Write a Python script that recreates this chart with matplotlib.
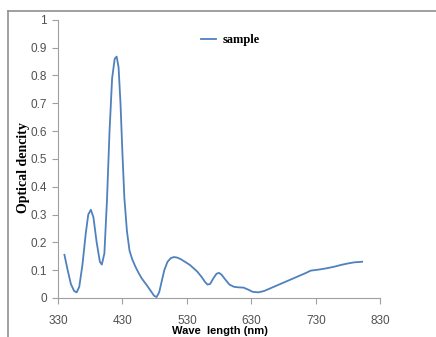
import matplotlib
matplotlib.use('Agg')
import matplotlib.pyplot as plt
from matplotlib.lines import Line2D

# values
wavelength = [340, 345, 350, 355, 359, 363, 368, 373, 377, 381, 385, 390, 395, 398,
              402, 406, 410, 414, 418, 421, 424, 427, 430, 433, 437, 441, 445, 450,
              455, 460, 468, 474, 479, 483, 487, 491, 495, 500, 505, 510, 515, 520,
              527, 535, 546, 553, 558, 562, 566, 571, 576, 580, 584, 590, 596, 603,
              610, 618, 625, 632, 641, 650, 660, 675, 690, 705, 715, 722, 735, 748,
              760, 770, 780, 790, 802]
density = [0.155, 0.10, 0.05, 0.025, 0.02, 0.04, 0.12, 0.23, 0.30, 0.317, 0.29, 0.20,
           0.13, 0.12, 0.16, 0.35, 0.60, 0.79, 0.86, 0.868, 0.83, 0.70, 0.52, 0.36,
           0.24, 0.17, 0.14, 0.113, 0.09, 0.07, 0.045, 0.025, 0.008, 0.003, 0.02,
           0.06, 0.10, 0.13, 0.143, 0.147, 0.145, 0.14, 0.13, 0.118, 0.095, 0.075,
           0.058, 0.048, 0.05, 0.07, 0.087, 0.09, 0.083, 0.065, 0.048, 0.04, 0.038,
           0.037, 0.03, 0.022, 0.02, 0.025, 0.035, 0.05, 0.065, 0.08, 0.09, 0.098,
           0.102, 0.107, 0.113, 0.119, 0.124, 0.128, 0.13]
xticks = [330, 430, 530, 630, 730, 830]
yticks = [0, 0.1, 0.2, 0.3, 0.4, 0.5, 0.6, 0.7, 0.8, 0.9, 1]
ytick_labels = ['0', '0.1', '0.2', '0.3', '0.4', '0.5', '0.6', '0.7', '0.8', '0.9', '1']

sans = ['Liberation Sans', 'DejaVu Sans']
serif = ['Liberation Serif', 'DejaVu Serif']

fig = plt.figure(figsize=(4.36, 3.37), dpi=100)
ax = fig.add_axes([0.133, 0.116, 0.739, 0.825])

ax.plot(wavelength, density, color='#4F81BD', lw=1.3, label='sample')

ax.set_xlim(330, 830)
ax.set_ylim(0, 1)
ax.set_xticks(xticks)
ax.set_yticks(yticks)
ax.set_yticklabels(ytick_labels)
for lab in ax.get_xticklabels() + ax.get_yticklabels():
    lab.set_family(sans)
    lab.set_fontsize(8.5)
    lab.set_color('#505050')
ax.tick_params(axis='both', direction='out', length=4, color='#a0a0a0', width=0.8)
ax.tick_params(axis='x', pad=8)
ax.tick_params(axis='y', pad=4)

for s in ['top', 'right']:
    ax.spines[s].set_visible(False)
for s in ['left', 'bottom']:
    ax.spines[s].set_color('#a0a0a0')
    ax.spines[s].set_linewidth(0.8)

fig.text(24 / 436, 1 - 168 / 337, 'Optical dencity', rotation=90, ha='center', va='center',
         family=serif, fontweight='bold', fontsize=10)
fig.text(220 / 436, 1 - 331 / 337, 'Wave  length (nm)', ha='center', va='center',
         family=sans, fontweight='bold', fontsize=8)

leg = ax.legend(loc='upper left', bbox_to_anchor=(0.41, 0.99), frameon=False,
                prop={'family': serif, 'weight': 'bold', 'size': 9},
                handlelength=1.2, handletextpad=0.5)

# outer frame (left and top edges)
fig.add_artist(Line2D([0.019, 0.019], [0, 0.967], color='#909090', lw=1.2))
fig.add_artist(Line2D([0.019, 1.0], [0.967, 0.967], color='#909090', lw=1.2))

fig.savefig('out.png', dpi=100)
